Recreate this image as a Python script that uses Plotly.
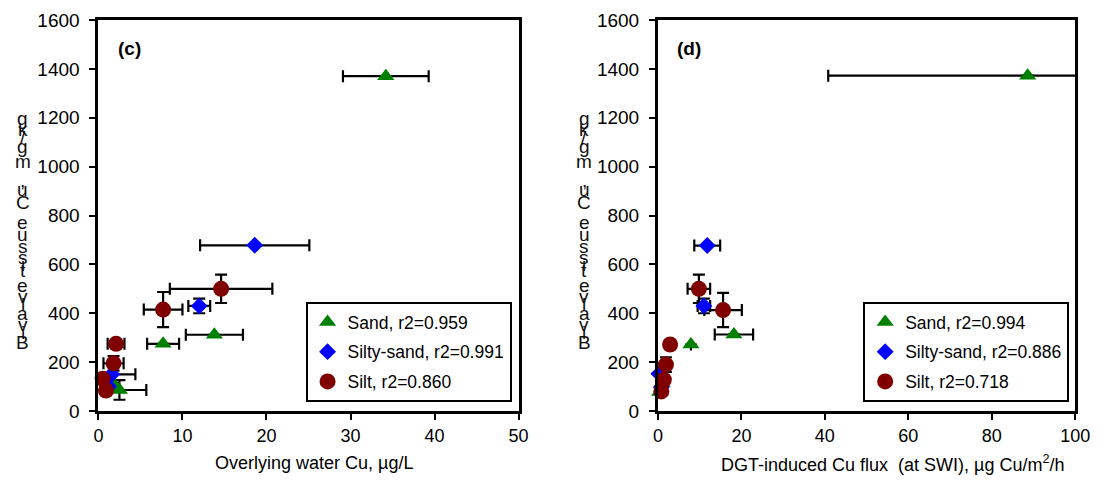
import plotly.graph_objects as go

# ---------------- data ----------------
# Panel (c): overlying water Cu (µg/L) vs bivalve tissue Cu (mg/kg)
c_sand_x = [34.2, 13.8, 7.7, 2.5, 1.7]
c_sand_y = [1370, 312, 275, 86, 115]
c_sand_xerr = [5.1, 3.4, 1.9, 3.2, 0]
c_sand_yerr = [0, 0, 0, 40, 0]

c_ss_x = [18.6, 12.0, 1.6, 1.2]
c_ss_y = [678, 430, 150, 100]
c_ss_xerr = [6.5, 1.3, 2.8, 0]
c_ss_yerr = [0, 30, 0, 0]

c_silt_x = [14.6, 7.7, 2.1, 1.8, 0.5, 0.9]
c_silt_y = [500, 415, 275, 195, 132, 84]
c_silt_xerr = [6.1, 2.3, 1.0, 1.2, 0, 0]
c_silt_yerr = [58, 72, 0, 30, 0, 0]

# Panel (d): DGT-induced Cu flux vs bivalve tissue Cu
d_sand_x = [88.6, 18.2, 7.9, 0.4, 1.0]
d_sand_y = [1372, 313, 272, 78, 115]
d_sand_xerr = [47.8, 4.6, 0, 0, 0]
d_sand_yerr = [0, 0, 0, 0, 0]

d_ss_x = [11.8, 11.0, 0.2, 0.8]
d_ss_y = [677, 430, 152, 97]
d_ss_xerr = [3.1, 1.5, 0, 0]
d_ss_yerr = [0, 30, 0, 0]

d_silt_x = [15.6, 9.8, 2.9, 1.9, 1.4, 0.8]
d_silt_y = [413, 500, 272, 190, 128, 80]
d_silt_xerr = [4.5, 2.7, 0, 0, 0, 0]
d_silt_yerr = [70, 58, 0, 30, 0, 0]

c_labels = ["Sand, r2=0.959", "Silty-sand, r2=0.991", "Silt, r2=0.860"]
d_labels = ["Sand, r2=0.994", "Silty-sand, r2=0.886", "Silt, r2=0.718"]

y_label = "Bivalve tissue Cu, mg/kg"
c_xtitle = "Overlying water Cu, µg/L"
d_xtitle = "DGT-induced Cu flux&nbsp; (at SWI), µg Cu/m<sup>2</sup>/h"

# ---------------- style ----------------
FONT = "Arial, 'Liberation Sans', sans-serif"
OFFX, OFFY = 8, 8            # html body margin
W, H = 1110 - 16, 488 - 16
TOP, BOT = 20, 411           # plot area top/bottom in screen pixels
MT = TOP - OFFY
MB = H - (BOT - OFFY)
PH = H - MT - MB

styles = [
    dict(symbol="triangle-up", color="#008000", size=15),
    dict(symbol="diamond", color="#0000FF", size=13),
    dict(symbol="circle", color="#800000", size=16),
]

fig = go.Figure()


def add_panel(xa, ya, legend, labels, series):
    # error bars first (clipped to the plot area), then markers on top
    for (x, y, xe, ye) in series:
        fig.add_trace(go.Scatter(
            x=x, y=y, mode="markers", xaxis=xa, yaxis=ya,
            marker=dict(size=1, opacity=0), showlegend=False, hoverinfo="skip",
            cliponaxis=True,
            error_x=dict(type="data", array=xe, visible=True, color="black",
                         thickness=2.2, width=6),
            error_y=dict(type="data", array=ye, visible=True, color="black",
                         thickness=2.2, width=6),
        ))
    for i, ((x, y, xe, ye), st, lab) in enumerate(zip(series, styles, labels)):
        fig.add_trace(go.Scatter(
            x=x, y=y, mode="markers", xaxis=xa, yaxis=ya, name=lab,
            legend=legend, legendgroup=f"{legend}{i}", cliponaxis=False,
            marker=dict(symbol=st["symbol"], color=st["color"], size=st["size"],
                        line=dict(width=0)),
        ))


add_panel("x", "y", "legend", c_labels, [
    (c_sand_x, c_sand_y, c_sand_xerr, c_sand_yerr),
    (c_ss_x, c_ss_y, c_ss_xerr, c_ss_yerr),
    (c_silt_x, c_silt_y, c_silt_xerr, c_silt_yerr),
])
add_panel("x2", "y2", "legend2", d_labels, [
    (d_sand_x, d_sand_y, d_sand_xerr, d_sand_yerr),
    (d_ss_x, d_ss_y, d_ss_xerr, d_ss_yerr),
    (d_silt_x, d_silt_y, d_silt_xerr, d_silt_yerr),
])

axis_common = dict(showline=True, mirror=True, linecolor="black", linewidth=3,
                   ticks="outside", ticklen=6, tickwidth=2, tickcolor="black",
                   showgrid=False, zeroline=False, fixedrange=True)


def px_x(p):
    return (p - OFFX) / W


def px_y(p):
    return (BOT - p) / PH


xdom_c = [px_x(95), px_x(523)]
xdom_d = [px_x(665), px_x(1090)]

legend_common = dict(xanchor="left", yanchor="top", bordercolor="black", borderwidth=2,
                     bgcolor="white", font=dict(size=17.5), traceorder="grouped",
                     tracegroupgap=4, itemwidth=30)

fig.update_layout(
    width=W, height=H, autosize=False,
    margin=dict(l=0, r=0, t=MT, b=MB),
    paper_bgcolor="white", plot_bgcolor="white",
    font=dict(family=FONT, color="black", size=18),
    xaxis=dict(domain=xdom_c, range=[0, 50], dtick=10, anchor="y",
               tickfont=dict(size=18), **axis_common),
    yaxis=dict(domain=[0, 1], range=[0, 1600], dtick=200, anchor="x",
               tickfont=dict(size=19), ticklabelstandoff=6, **axis_common),
    xaxis2=dict(domain=xdom_d, range=[0, 100], dtick=20, anchor="y2",
                tickfont=dict(size=18), **axis_common),
    yaxis2=dict(domain=[0, 1], range=[0, 1600], dtick=200, anchor="x2",
                tickfont=dict(size=19), ticklabelstandoff=6, **axis_common),
    legend=dict(x=px_x(306), y=px_y(302), **legend_common),
    legend2=dict(x=px_x(874), y=px_y(302), **legend_common),
)


def label(text, xp, yp, size, color="black"):
    return dict(text=text, x=px_x(xp), y=px_y(yp), xref="paper", yref="paper",
                xanchor="center", yanchor="middle", showarrow=False,
                font=dict(size=size, color=color))


ann = []
# panel labels
ann.append(label("<b>(c)</b>", 127, 48, 19))
ann.append(label("<b>(d)</b>", 697, 48, 19))
# x titles
ann.append(label(c_xtitle, 315, 463, 18))
ann.append(label(d_xtitle, 904, 463, 18))

# stacked (upright) y-axis label letters, as in the reference
widths = {"B": .667, "i": .222, "v": .5, "a": .556, "l": .222, "e": .556, " ": .278,
          "t": .278, "s": .5, "u": .556, "C": .722, ",": .278, "m": .833, "g": .556,
          "/": .278, "k": .5}
centers = []
cum = 0
for ch in y_label:
    w = widths.get(ch, .5)
    centers.append(cum + w / 2)
    cum += w
c0, c1 = centers[0], centers[-1]
for xc in (18, 590):
    for ch, cc in zip(y_label, centers):
        if ch == " ":
            continue
        ypix = 342 - (cc - c0) / (c1 - c0) * 224
        ann.append(label(ch, xc, ypix, 19, "#111"))

fig.update_layout(annotations=ann)

fig.write_html("out.html")
